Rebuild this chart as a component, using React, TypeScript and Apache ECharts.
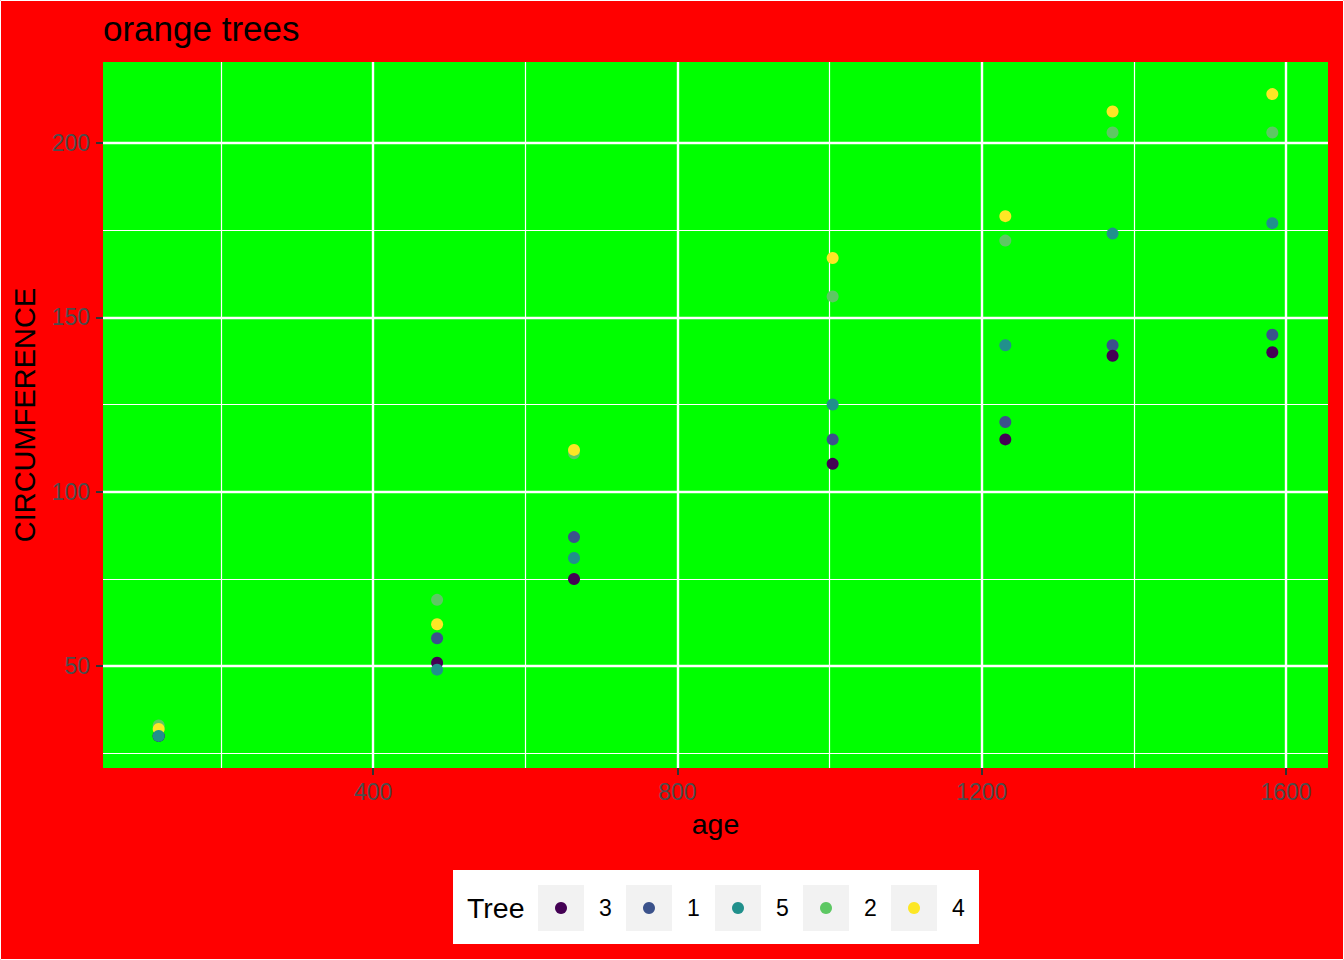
import React, { useEffect, useRef } from "react";
import * as echarts from "echarts";

const ages = [118, 484, 664, 1004, 1231, 1372, 1582];
const tree1 = [30, 58, 87, 115, 120, 142, 145];
const tree2 = [33, 69, 111, 156, 172, 203, 203];
const tree3 = [30, 51, 75, 108, 115, 139, 140];
const tree4 = [32, 62, 112, 167, 179, 209, 214];
const tree5 = [30, 49, 81, 125, 142, 174, 177];

const treeNames = ["1", "2", "3", "4", "5"];
const treeValues = [tree1, tree2, tree3, tree4, tree5];
const treeColors: Record<string, string> = {
  "3": "#440154",
  "1": "#3B528B",
  "5": "#21908C",
  "2": "#5DC863",
  "4": "#FDE725",
};
const legendOrder = ["3", "1", "5", "2", "4"];

const xMajor = [400, 800, 1200, 1600];
const xMinor = [200, 600, 1000, 1400];
const yMajor = [50, 100, 150, 200];
const yMinor = [25, 75, 125, 175];

const FONT = "Liberation Sans, Arial, Helvetica, sans-serif";

export default function App() {
  const ref = useRef<HTMLDivElement>(null);
  useEffect(() => {
    document.body.style.margin = "0";
    const chart = echarts.init(ref.current!, null, { renderer: "svg" });

    const gridLine = (axis: "xAxis" | "yAxis", vals: number[], width: number) => ({
      type: "scatter",
      data: [],
      silent: true,
      z: 1,
      markLine: {
        silent: true,
        symbol: "none",
        animation: false,
        label: { show: false },
        lineStyle: { color: "#FFFFFF", type: "solid", width },
        data: vals.map((v) => ({ [axis]: v })),
      },
    });

    const legendX0 = 453;
    const legendY0 = 870;
    const keyStarts = [538, 626, 715, 803, 891];
    const legendGraphics: any[] = [
      { type: "rect", shape: { x: legendX0, y: legendY0, width: 526, height: 74 }, style: { fill: "#FFFFFF" } },
      {
        type: "text",
        x: 467,
        y: 908,
        style: { text: "Tree", font: `28.5px ${FONT}`, fill: "#000000", textVerticalAlign: "middle", verticalAlign: "middle" },
      },
    ];
    legendOrder.forEach((name, i) => {
      const kx = keyStarts[i];
      legendGraphics.push({ type: "rect", shape: { x: kx, y: 885, width: 46, height: 46 }, style: { fill: "#F2F2F2" } });
      legendGraphics.push({ type: "circle", shape: { cx: kx + 23, cy: 908, r: 6 }, style: { fill: treeColors[name] } });
      legendGraphics.push({
        type: "text",
        x: kx + 61,
        y: 908,
        style: { text: name, font: `23px ${FONT}`, fill: "#000000", verticalAlign: "middle", textVerticalAlign: "middle" },
      });
    });

    chart.setOption({
      animation: false,
      backgroundColor: "#FF0000",
      textStyle: { fontFamily: FONT },
      title: {
        text: "orange trees",
        left: 98,
        top: 6,
        textStyle: { fontSize: 35, fontWeight: "normal", color: "#000000", fontFamily: FONT },
      },
      grid: {
        left: 103,
        top: 62,
        width: 1225,
        height: 706,
        show: true,
        backgroundColor: "#00FF00",
        borderWidth: 0,
      },
      xAxis: {
        type: "value",
        min: 44.8,
        max: 1655.2,
        name: "age",
        nameLocation: "middle",
        nameGap: 41,
        nameTextStyle: { fontSize: 28.5, color: "#000000", fontFamily: FONT },
        axisLine: { show: false },
        splitLine: { show: false },
        axisTick: { show: true, customValues: xMajor, length: 7, lineStyle: { color: "#333333", width: 2 } },
        axisLabel: {
          customValues: xMajor,
          fontSize: 23,
          color: "#4D4D4D",
          margin: 12,
          fontFamily: FONT,
          formatter: (v: number) => String(v),
        },
      },
      yAxis: {
        type: "value",
        min: 20.8,
        max: 223.2,
        name: "CIRCUMFERENCE",
        nameLocation: "middle",
        nameGap: 64,
        nameTextStyle: { fontSize: 29, color: "#000000", fontFamily: FONT },
        axisLine: { show: false },
        splitLine: { show: false },
        axisTick: { show: true, customValues: yMajor, length: 7, lineStyle: { color: "#333333", width: 2 } },
        axisLabel: {
          customValues: yMajor,
          fontSize: 23,
          color: "#4D4D4D",
          margin: 13,
          fontFamily: FONT,
          formatter: (v: number) => String(v),
        },
      },
      series: [
        gridLine("xAxis", xMinor, 1.2),
        gridLine("yAxis", yMinor, 1.2),
        gridLine("xAxis", xMajor, 2.4),
        gridLine("yAxis", yMajor, 2.4),
        ...treeNames.map((name, i) => ({
          type: "scatter",
          name,
          z: 5,
          symbol: "circle",
          symbolSize: 12,
          itemStyle: { color: treeColors[name], opacity: 1 },
          data: ages.map((a, j) => [a, treeValues[i][j]]),
        })),
      ],
      graphic: [
        { type: "rect", shape: { x: 0.5, y: 0.5, width: 1343, height: 959 }, style: { fill: "none", stroke: "#FFFFFF", lineWidth: 1 }, z: 100 },
        ...legendGraphics,
      ],
    });
    return () => chart.dispose();
  }, []);
  return <div ref={ref} style={{ width: 1344, height: 960 }} />;
}
